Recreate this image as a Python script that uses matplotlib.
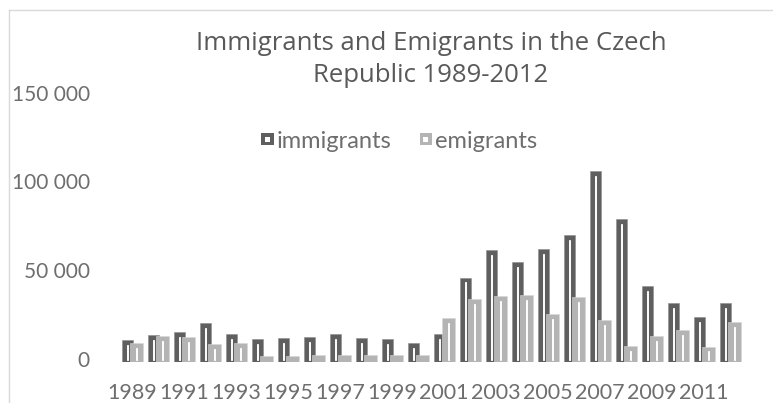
import matplotlib.pyplot as plt
import numpy as np
from matplotlib.lines import Line2D
from matplotlib.patches import Patch, Rectangle
from matplotlib.transforms import ScaledTranslation

years = list(range(1989, 2013))
immigrants = [12200, 15000, 16900, 21600, 15600, 13000, 13400, 13800, 15600, 13500, 12600, 10500,
              15600, 47400, 63000, 56200, 63400, 71300, 107500, 80400, 42700, 33300, 25400, 32900]
emigrants = [10700, 14500, 14100, 10000, 10400, 3200, 3200, 3600, 3600, 3800, 3800, 3800,
             24500, 35200, 37000, 37600, 26900, 36300, 23300, 8800, 14500, 17700, 8500, 22500]
tick_years = [str(y) for y in years[::2]]
yticks = [0, 50000, 100000, 150000]
ytick_labels = ['0', '50 000', '100 000', '150 000']

dark = '#5f5f5f'
light = '#b4b4b4'
text_col = '#595959'
tick_col = '#6e6e6e'


class KeyHandler:
    # square legend key with a small white square inside, like the bars
    def legend_artist(self, legend, orig_handle, fontsize, handlebox):
        s = 8.9
        cx = handlebox.width / 2 - handlebox.xdescent
        cy = handlebox.height / 2 - handlebox.ydescent
        tr = handlebox.get_transform()
        outer = Rectangle((cx - s / 2, cy - s / 2), s, s, facecolor=orig_handle.get_facecolor(),
                          lw=0, transform=tr)
        inner = Rectangle((cx - s * 0.2, cy - s * 0.2), s * 0.4, s * 0.4, facecolor='white',
                          lw=0, transform=tr)
        handlebox.add_artist(outer)
        handlebox.add_artist(inner)
        return outer


fig = plt.figure(figsize=(7.73, 4.03), dpi=100)
ax = fig.add_axes([119 / 773, 1 - 361.7 / 403, 624 / 773, (361.7 - 95.6) / 403])

x = np.arange(len(years))
ax.bar(x - 0.17, immigrants, width=0.44, color=dark, edgecolor='#8c8c8c', linewidth=0.4)
ax.bar(x + 0.17, emigrants, width=0.48, color=light, edgecolor='#d6d6d6', linewidth=0.4)

# thin white inner outline seen on each bar
for off, vals in [(-0.17, immigrants), (0.17, emigrants)]:
    vals = np.array(vals, dtype=float)
    keep = vals > 6000
    ax.bar(x[keep] + off, vals[keep] - 3600, bottom=850, width=0.07,
           facecolor='none', edgecolor='white', linewidth=0.7)

ax.set_xlim(-0.5, len(years) - 0.5)
ax.set_ylim(0, 150000)
ax.set_xticks(x[::2])
ax.set_xticklabels(tick_years)
ax.set_yticks(yticks)
ax.set_yticklabels(ytick_labels)
ax.tick_params(length=0, labelcolor=tick_col)
ax.tick_params(axis='y', pad=21, labelsize=15)
ax.tick_params(axis='x', pad=15, labelsize=15.5)
shift_up = ScaledTranslation(0, 3 / 100, fig.dpi_scale_trans)
for lab in ax.get_yticklabels():
    lab.set_family('Lato')
    lab.set_transform(lab.get_transform() + shift_up)
for lab in ax.get_xticklabels():
    lab.set_family('Lato')
for s in ax.spines.values():
    s.set_visible(False)

fig.text(431 / 773, 1 - 43 / 403, 'Immigrants and Emigrants in the Czech', ha='center', va='center',
         fontsize=18.5, color=text_col, family='Open Sans')
fig.text(431 / 773, 1 - 75 / 403, 'Republic 1989-2012', ha='center', va='center',
         fontsize=18.5, color=text_col, family='Open Sans')

fig.legend([Patch(facecolor=dark), Patch(facecolor=light)], ['immigrants', 'emigrants'],
           handler_map={Patch: KeyHandler()},
           loc='center', bbox_to_anchor=(399 / 773, 1 - 141 / 403),
           ncol=2, frameon=False, prop={'family': 'Lato', 'size': 17}, labelcolor=tick_col,
           handlelength=0.55, handletextpad=0.1, columnspacing=1.2)

# chart border
fig.add_artist(Line2D([9 / 773, 9 / 773], [0, 1 - 10 / 403], color='#d9d9d9', lw=1))
fig.add_artist(Line2D([9 / 773, 1], [1 - 10 / 403, 1 - 10 / 403], color='#d9d9d9', lw=1))

fig.savefig('out.png', dpi=100)
